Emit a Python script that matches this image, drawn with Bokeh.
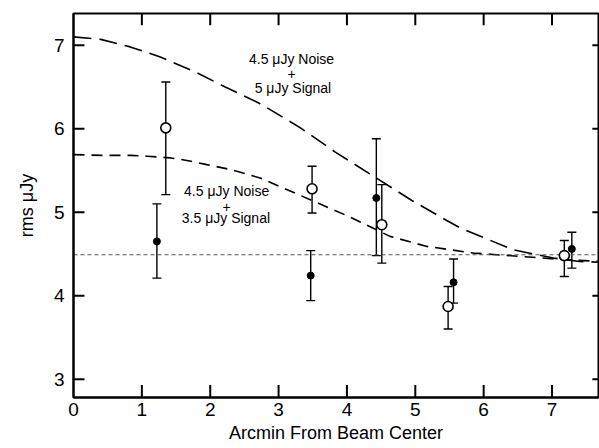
from bokeh.plotting import figure
from bokeh.models import Range1d, Whisker, TeeHead, ColumnDataSource, FixedTicker
from bokeh.core.properties import value
from bokeh.embed import file_html
from bokeh.resources import INLINE

# Data
open_x = [1.35, 3.49, 4.51, 5.48, 7.18]
open_y = [6.01, 5.28, 4.85, 3.87, 4.48]
open_lo = [5.21, 4.99, 4.39, 3.60, 4.23]
open_hi = [6.56, 5.55, 5.33, 4.11, 4.66]

fill_x = [1.22, 3.47, 4.43, 5.56, 7.29]
fill_y = [4.65, 4.24, 5.17, 4.16, 4.56]
fill_lo = [4.21, 3.94, 4.48, 3.91, 4.33]
fill_hi = [5.10, 4.54, 5.88, 4.44, 4.76]

upper_x = [0, 0.4, 0.83, 1.27, 1.78, 2.22, 2.73, 3.32, 3.83, 4.37, 4.95, 5.46, 5.66, 6.43, 7.02, 7.4, 7.7]
upper_y = [7.10, 7.07, 6.98, 6.86, 6.68, 6.50, 6.30, 6.01, 5.72, 5.44, 5.14, 4.90, 4.81, 4.55, 4.45, 4.41, 4.40]

lower_x = [0, 0.44, 0.83, 1.08, 1.42, 1.66, 1.95, 2.3, 2.73, 3.32, 3.6, 4.05, 4.63, 5.17, 5.85, 6.72, 7.2, 7.7]
lower_y = [5.69, 5.68, 5.68, 5.67, 5.65, 5.62, 5.57, 5.51, 5.41, 5.20, 5.10, 4.94, 4.71, 4.59, 4.51, 4.46, 4.43, 4.41]

noise_level = 4.49

x_ticks = [0, 1, 2, 3, 4, 5, 6, 7]
y_ticks = [3, 4, 5, 6, 7]
inner_x_ticks = [1, 2, 3, 4, 5, 6, 7]

label1 = ["4.5 \u03bcJy Noise", "+", "5 \u03bcJy Signal"]
label1_x = [3.19, 3.19, 3.21]
label1_y = [6.84, 6.66, 6.49]
label2 = ["4.5 \u03bcJy Noise", "+", "3.5 \u03bcJy Signal"]
label2_x = [2.24, 2.24, 2.23]
label2_y = [5.25, 5.06, 4.93]

FONT = "Liberation Sans"
X0, X1, Y0, Y1 = 0, 7.68, 2.78, 7.38

p = figure(width=599, height=448, output_backend="svg", toolbar_location=None,
           x_range=Range1d(X0, X1), y_range=Range1d(Y0, Y1),
           min_border_left=73, min_border_right=1, min_border_top=13, min_border_bottom=51,
           background_fill_color="white", border_fill_color="white")
p.grid.visible = False
p.outline_line_color = "black"
p.outline_line_width = 2

for ax in (p.xaxis[0], p.yaxis[0]):
    ax.major_tick_in = 0
    ax.major_tick_out = 0
    ax.minor_tick_in = 0
    ax.minor_tick_out = 0
    ax.axis_line_width = 2
    ax.major_label_text_font = FONT
    ax.major_label_text_font_size = "19px"
    ax.major_label_text_color = "black"
    ax.axis_label_text_font = FONT
    ax.axis_label_text_font_size = "18px"
    ax.axis_label_text_font_style = "normal"
    ax.axis_label_text_color = "black"

p.xaxis[0].ticker = FixedTicker(ticks=x_ticks)
p.yaxis[0].ticker = FixedTicker(ticks=y_ticks)
p.xaxis[0].axis_label = "Arcmin From Beam Center"
p.yaxis[0].axis_label = "rms \u03bcJy"
p.xaxis[0].major_label_standoff = 5
p.yaxis[0].major_label_standoff = 9
p.xaxis[0].axis_label_standoff = 4
p.yaxis[0].axis_label_standoff = 14

n = len(inner_x_ticks)
m = len(y_ticks)
# inward ticks on all four edges, drawn at the tick values
p.segment(x0=inner_x_ticks, y0=[Y1] * n, x1=inner_x_ticks, y1=[Y1 - 0.14] * n,
          line_color="black", line_width=2)
p.segment(x0=inner_x_ticks, y0=[Y0] * n, x1=inner_x_ticks, y1=[Y0 + 0.15] * n,
          line_color="black", line_width=2)
p.segment(x0=[X1] * m, y0=y_ticks, x1=[X1 - 0.09] * m, y1=y_ticks,
          line_color="black", line_width=2)
p.segment(x0=[X0] * m, y0=y_ticks, x1=[X0 + 0.16] * m, y1=y_ticks,
          line_color="black", line_width=2)

# model curves
p.line(upper_x, upper_y, line_color="black", line_width=1.6, line_dash="18 8")
p.line(lower_x, lower_y, line_color="black", line_width=1.6, line_dash="11 7")
p.line([X0, X1], [noise_level, noise_level], line_color="#555555", line_width=1, line_dash="4 3")

# error bars
src_o = ColumnDataSource(dict(x=open_x, y=open_y, lo=open_lo, hi=open_hi))
src_f = ColumnDataSource(dict(x=fill_x, y=fill_y, lo=fill_lo, hi=fill_hi))
for src in (src_f, src_o):
    w = Whisker(base="x", lower="lo", upper="hi", source=src, line_color="black", line_width=1.4,
                upper_head=TeeHead(size=9, line_color="black", line_width=1.4),
                lower_head=TeeHead(size=9, line_color="black", line_width=1.4))
    p.add_layout(w)

p.scatter("x", "y", source=src_f, size=7, fill_color="black", line_color="black")
p.scatter("x", "y", source=src_o, size=10, fill_color="white", line_color="black", line_width=1.6)

p.text(label1_x, label1_y, text=label1, text_font=value(FONT), text_font_size="14px",
       text_align="center", text_baseline="middle", text_color="black")
p.text(label2_x, label2_y, text=label2, text_font=value(FONT), text_font_size="14px",
       text_align="center", text_baseline="middle", text_color="black")

open("out.html", "w").write(file_html(p, INLINE))
